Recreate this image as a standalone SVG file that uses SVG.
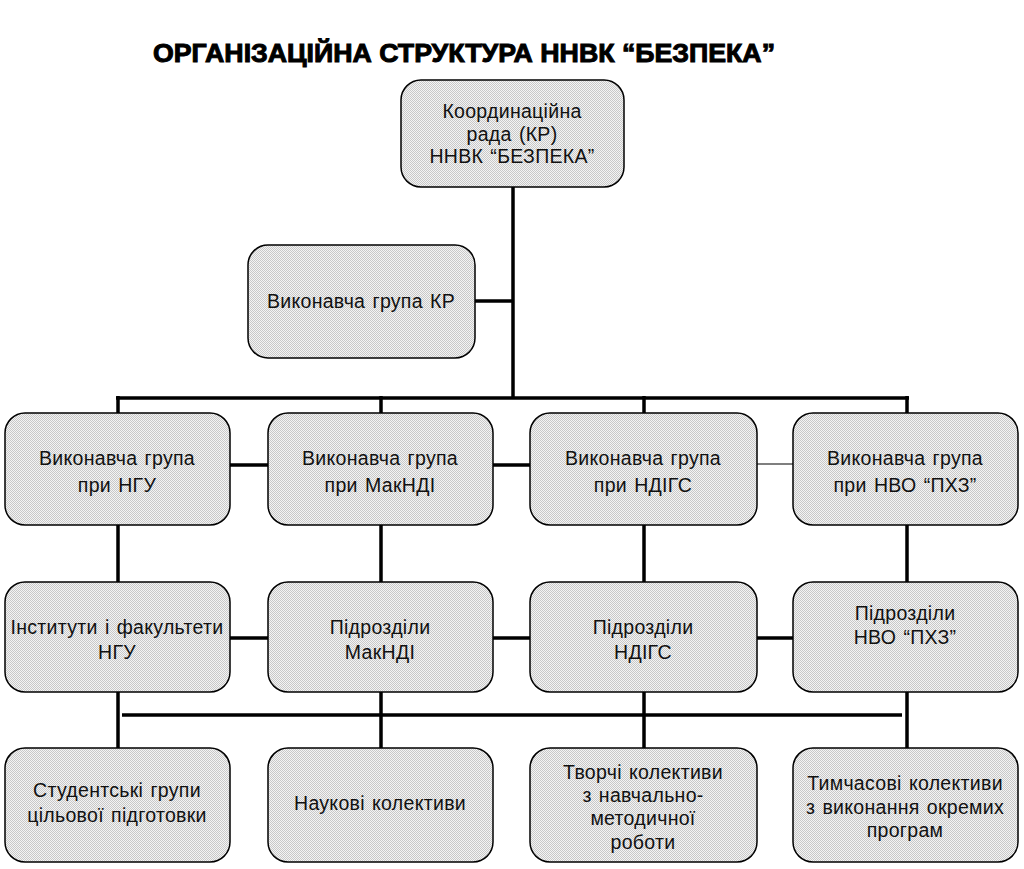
<svg xmlns="http://www.w3.org/2000/svg" width="1024" height="869" viewBox="0 0 1024 869">
<defs>
<pattern id="dots" width="2" height="2" patternUnits="userSpaceOnUse">
<rect width="2" height="2" fill="#f4f4f4"/>
<rect width="1" height="1" fill="#c8c8c8"/>
<rect x="1" y="1" width="1" height="1" fill="#c8c8c8"/>
</pattern>
</defs>
<style>
.box{fill:url(#dots);stroke:#000;stroke-width:1.5}
.t{font-family:"Liberation Sans",Arial,sans-serif;font-size:19.5px;letter-spacing:0.3px;word-spacing:1.5px;fill:#111;text-anchor:middle}
.title{font-family:"Liberation Sans",Arial,sans-serif;font-size:26px;font-weight:bold;fill:#000;stroke:#000;stroke-width:1}
.c{stroke:#000;stroke-width:3.5;fill:none}
.ct{stroke:#000;stroke-width:1.2;fill:none}
</style>
<rect width="1024" height="869" fill="#fff"/>
<text class="title" x="153" y="62" textLength="622" lengthAdjust="spacingAndGlyphs">ОРГАНІЗАЦІЙНА СТРУКТУРА ННВК “БЕЗПЕКА”</text>
<g id="connectors">
<line class="c" x1="513" y1="187" x2="513" y2="398"/>
<line class="c" x1="475" y1="301" x2="513" y2="301"/>
<line class="c" x1="116" y1="398" x2="909" y2="398"/>
<line class="c" x1="118" y1="396" x2="118" y2="414"/>
<line class="c" x1="381" y1="396" x2="381" y2="414"/>
<line class="c" x1="644" y1="396" x2="644" y2="414"/>
<line class="c" x1="907" y1="396" x2="907" y2="414"/>
<line class="c" x1="230" y1="465" x2="268" y2="465"/>
<line class="c" x1="493" y1="465" x2="530" y2="465"/>
<line class="ct" x1="757" y1="464" x2="793" y2="464"/>
<line class="c" x1="118" y1="525" x2="118" y2="582"/>
<line class="c" x1="381" y1="525" x2="381" y2="582"/>
<line class="c" x1="644" y1="525" x2="644" y2="582"/>
<line class="c" x1="907" y1="525" x2="907" y2="582"/>
<line class="c" x1="230" y1="638" x2="268" y2="638"/>
<line class="c" x1="493" y1="638" x2="530" y2="638"/>
<line class="c" x1="757" y1="638" x2="793" y2="638"/>
<line class="c" x1="118" y1="692" x2="118" y2="748"/>
<line class="c" x1="381" y1="692" x2="381" y2="748"/>
<line class="c" x1="644" y1="692" x2="644" y2="748"/>
<line class="c" x1="907" y1="692" x2="907" y2="748"/>
<line class="c" x1="122" y1="715" x2="902" y2="715"/>
</g>
<g id="kr">
<rect class="box" x="401" y="80" width="223" height="107" rx="20"/>
<text class="t" x="512" y="118">Координаційна</text>
<text class="t" x="512" y="141">рада (КР)</text>
<text class="t" x="512" y="163">ННВК “БЕЗПЕКА”</text>
</g>
<g id="vg-kr">
<rect class="box" x="248" y="245" width="227" height="113" rx="20"/>
<text class="t" x="361" y="308">Виконавча група КР</text>
</g>
<g id="vg-ngu">
<rect class="box" x="5" y="413" width="225" height="112" rx="20"/>
<text class="t" x="117" y="465">Виконавча група</text>
<text class="t" x="117" y="492">при НГУ</text>
</g>
<g id="vg-makndi">
<rect class="box" x="268" y="413" width="225" height="112" rx="20"/>
<text class="t" x="380" y="465">Виконавча група</text>
<text class="t" x="380" y="492">при МакНДІ</text>
</g>
<g id="vg-ndigs">
<rect class="box" x="530" y="413" width="227" height="112" rx="20"/>
<text class="t" x="643" y="465">Виконавча група</text>
<text class="t" x="643" y="492">при НДІГС</text>
</g>
<g id="vg-nvo">
<rect class="box" x="793" y="413" width="225" height="112" rx="20"/>
<text class="t" x="905" y="465">Виконавча група</text>
<text class="t" x="905" y="492">при НВО “ПХЗ”</text>
</g>
<g id="inst-ngu">
<rect class="box" x="5" y="582" width="225" height="110" rx="20"/>
<text class="t" x="117" y="634">Інститути і факультети</text>
<text class="t" x="117" y="659">НГУ</text>
</g>
<g id="pd-makndi">
<rect class="box" x="268" y="582" width="225" height="110" rx="20"/>
<text class="t" x="380" y="634">Підрозділи</text>
<text class="t" x="380" y="659">МакНДІ</text>
</g>
<g id="pd-ndigs">
<rect class="box" x="530" y="582" width="227" height="110" rx="20"/>
<text class="t" x="643" y="634">Підрозділи</text>
<text class="t" x="643" y="659">НДІГС</text>
</g>
<g id="pd-nvo">
<rect class="box" x="793" y="582" width="225" height="110" rx="20"/>
<text class="t" x="905" y="620">Підрозділи</text>
<text class="t" x="905" y="644">НВО “ПХЗ”</text>
</g>
<g id="stud">
<rect class="box" x="5" y="748" width="225" height="114" rx="20"/>
<text class="t" x="117" y="797">Студентські групи</text>
<text class="t" x="117" y="822">цільової підготовки</text>
</g>
<g id="nauk">
<rect class="box" x="268" y="748" width="225" height="114" rx="20"/>
<text class="t" x="380" y="810">Наукові колективи</text>
</g>
<g id="tvor">
<rect class="box" x="530" y="748" width="227" height="114" rx="20"/>
<text class="t" x="643" y="779">Творчі колективи</text>
<text class="t" x="643" y="802">з навчально-</text>
<text class="t" x="643" y="825">методичної</text>
<text class="t" x="643" y="849">роботи</text>
</g>
<g id="tymch">
<rect class="box" x="793" y="748" width="225" height="114" rx="20"/>
<text class="t" x="905" y="790">Тимчасові колективи</text>
<text class="t" x="905" y="814">з виконання окремих</text>
<text class="t" x="905" y="837">програм</text>
</g>
</svg>
